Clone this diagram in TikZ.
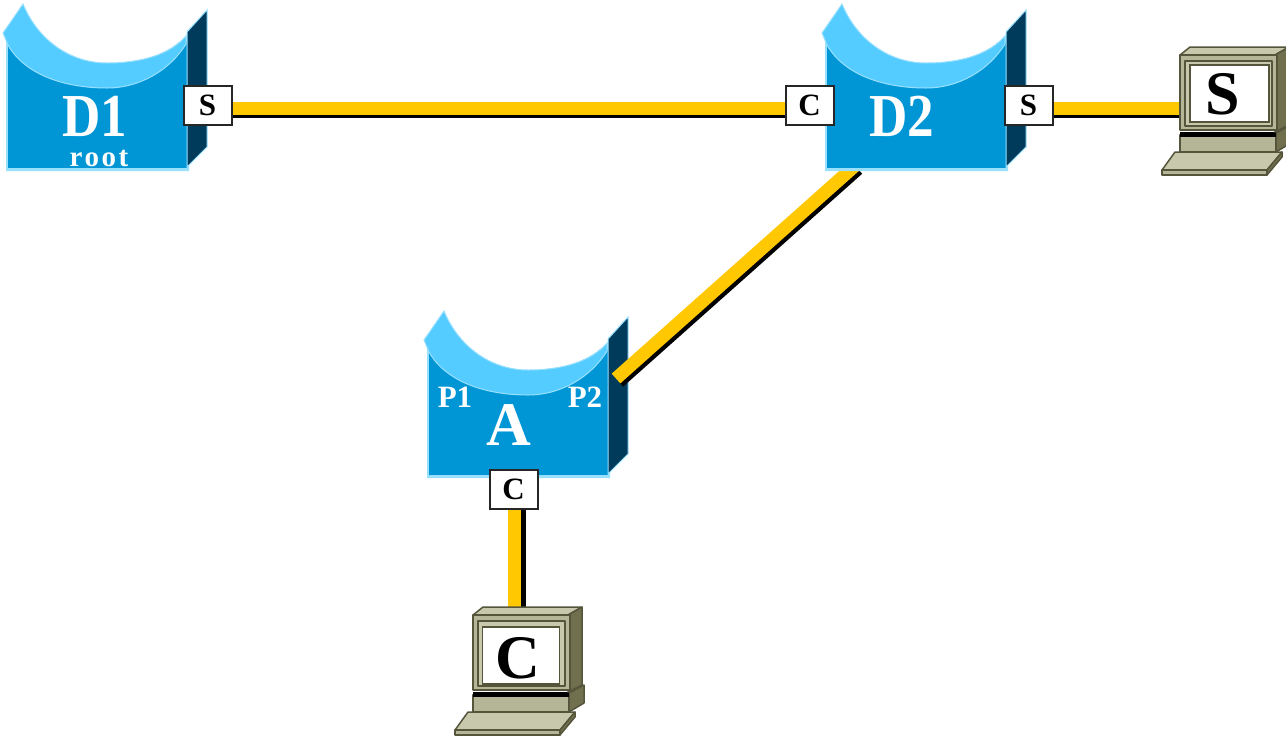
\documentclass[tikz,border=0pt]{standalone}
\usepackage{fontspec}
\setmainfont{Liberation Serif}
\newfontfamily\spaced[LetterSpace=9]{Liberation Serif}
\usetikzlibrary{calc}
\pgfdeclarelayer{back}
\pgfdeclarelayer{mid}
\pgfsetlayers{back,mid,main}
\definecolor{swblue}{HTML}{0096D6}
\definecolor{swlight}{HTML}{55CCFF}
\definecolor{swside}{HTML}{003B5C}
\definecolor{swedge}{HTML}{99E0FF}
\definecolor{wirey}{HTML}{FFC800}
\definecolor{pcface}{HTML}{B5B598}
\definecolor{pctop}{HTML}{C8C8AC}
\definecolor{pcside}{HTML}{70704F}
\definecolor{pcline}{HTML}{55553C}
\newcommand{\fsz}[1]{\fontsize{#1}{#1}\selectfont}
\newcommand{\narrow}[1]{\scalebox{.87}[1]{#1}}
\newcommand{\hwire}[2]{%
  \draw[line width=3.5] ($(#1)+(0,11.5)$) -- ($(#1 -| #2)+(0,11.5)$);
  \draw[wirey,line width=13] ($(#1)+(0,3.5)$) -- ($(#1 -| #2)+(0,3.5)$);}
\tikzset{
  x=1pt,y=-1pt,
  swlabel/.style={text=white,inner sep=0pt},
  swname/.style={swlabel,font=\bfseries\fsz{61}},
  swport/.style={swlabel,font=\bfseries\fsz{31}},
  portbox/.style={draw=black!85,line width=2pt,fill=white,minimum width=48pt,minimum height=39pt,inner sep=0pt,font=\bfseries\fsz{31}},
  screen/.style={draw=pcline,line width=1.5pt,fill=white,minimum width=79pt,minimum height=57pt,inner sep=0pt},
  screentext/.style={inner sep=0pt,font=\bfseries\fsz{62}},
  switchshape/.pic={
    \fill[swedge] (6,40) -- (6,171) -- (189,171) -- (189,30) -- cycle;
    \fill[swblue] (8,42) -- (8,168) -- (187,168) -- (187,42) -- cycle;
    \fill[white] (0,0) rectangle (187,36);
    \fill[white] (23,4) .. controls (38,40) and (70,63) .. (107,63) .. controls (140,63) and (170,55) .. (187,34) -- (187,0) -- (23,0) -- cycle;
    \fill[swside,draw=swedge,line width=1pt] (187,32) -- (207,10) -- (207,147) -- (187,167) -- cycle;
    \fill[swlight,draw=swedge,line width=1pt] (3,33) -- (23,4) .. controls (38,40) and (70,63) .. (107,63) .. controls (140,63) and (170,55) .. (186,36) -- (186,44) .. controls (170,70) and (140,88) .. (107,88) .. controls (65,88) and (25,75) .. (8,45) -- cycle;
  },
  pcshape/.pic={
    \begin{scope}[draw=pcline,line width=1.5pt,line join=round]
    \filldraw[fill=pctop] (-5,97) -- (102,97) -- (87,115) -- (-18,115) -- cycle;
    \filldraw[fill=pcface] (-18,115) -- (87,115) -- (87,120) -- (-18,120) -- cycle;
    \filldraw[fill=pcside] (87,115) -- (102,97) -- (102,102) -- (87,120) -- cycle;
    \filldraw[fill=pcside] (96,78) -- (111,70) -- (111,88) -- (96,97) -- cycle;
    \filldraw[fill=pcface] (0,80) -- (96,80) -- (96,97) -- (0,97) -- cycle;
    \fill[black] (0,77) rectangle (96,82);
    \filldraw[fill=pctop] (0,0) -- (10,-8) -- (109,-8) -- (95,0) -- cycle;
    \filldraw[fill=pcside] (95,0) -- (109,-8) -- (109,70) -- (95,77) -- cycle;
    \filldraw[fill=pcface] (0,0) rectangle (97,75);
    \filldraw[fill=pctop] (5,6) rectangle (92,71);
    \end{scope}
  },
}
\begin{document}
\begin{tikzpicture}[x=1pt,y=-1pt]
\useasboundingbox (0,0) rectangle (1286,740);
\clip (0,0) rectangle (1286,740);
% switch A, under the link to D2
\begin{pgfonlayer}{back}
  \pic at (421,307) {switchshape};
  \node[swname,font=\bfseries\fsz{62}] (A) at (509,425) {A};
  \node[swport] (P1) at (455,397) {P1};
  \node[swport] (P2) at (585,397) {P2};
\end{pgfonlayer}
% switches D1, D2
\pic at (0,0) {switchshape};
\node[swname] (D1) at (95,116) {\narrow{D1}};
\node[swlabel,font=\spaced\bfseries\fsz{29}] (root) at (99,158) {root};
\pic at (819,0) {switchshape};
\node[swname] (D2) at (902,116) {\narrow{D2}};
% ports
\node[portbox] (d1s) at (207.5,105) {S};
\node[portbox] (d2c) at (809.5,105) {C};
\node[portbox] (d2s) at (1028.5,105) {S};
\node[portbox] (ac) at (513.5,489.5) {C};
% computers
\pic at (1180,55) {pcshape};
\node[screen] (pcS) at (1229.5,93.5) {};
\node[screentext] (pcStext) at (1223,94) {S};
\pic at (473,615) {pcshape};
\node[screen,minimum width=77pt] (pcC) at (521,655.5) {};
\node[screentext] (pcCtext) at (518,658) {C};
% link end points hidden under the shapes
\coordinate (a2) at (616,378.5);
\coordinate (d2foot) at (855,165.7);
\coordinate (acy) at ($(ac.south)+(1,0)$);
\coordinate (ack) at ($(ac.south)+(10,0)$);
% links
\begin{pgfonlayer}{mid}
  \hwire{d1s.east}{d2c.west}
  \hwire{d2s.east}{pcS.west}
  \draw[line width=5] ($(a2)+(5.5,6.2)$) -- ($(d2foot)+(5.5,6.2)$);
  \draw[wirey,line width=13] (a2) -- (d2foot);
  \draw[line width=5] (ack) -- (ack |- pcC.north);
  \draw[wirey,line width=13] (acy) -- (acy |- pcC.north);
\end{pgfonlayer}
\end{tikzpicture}
\end{document}
